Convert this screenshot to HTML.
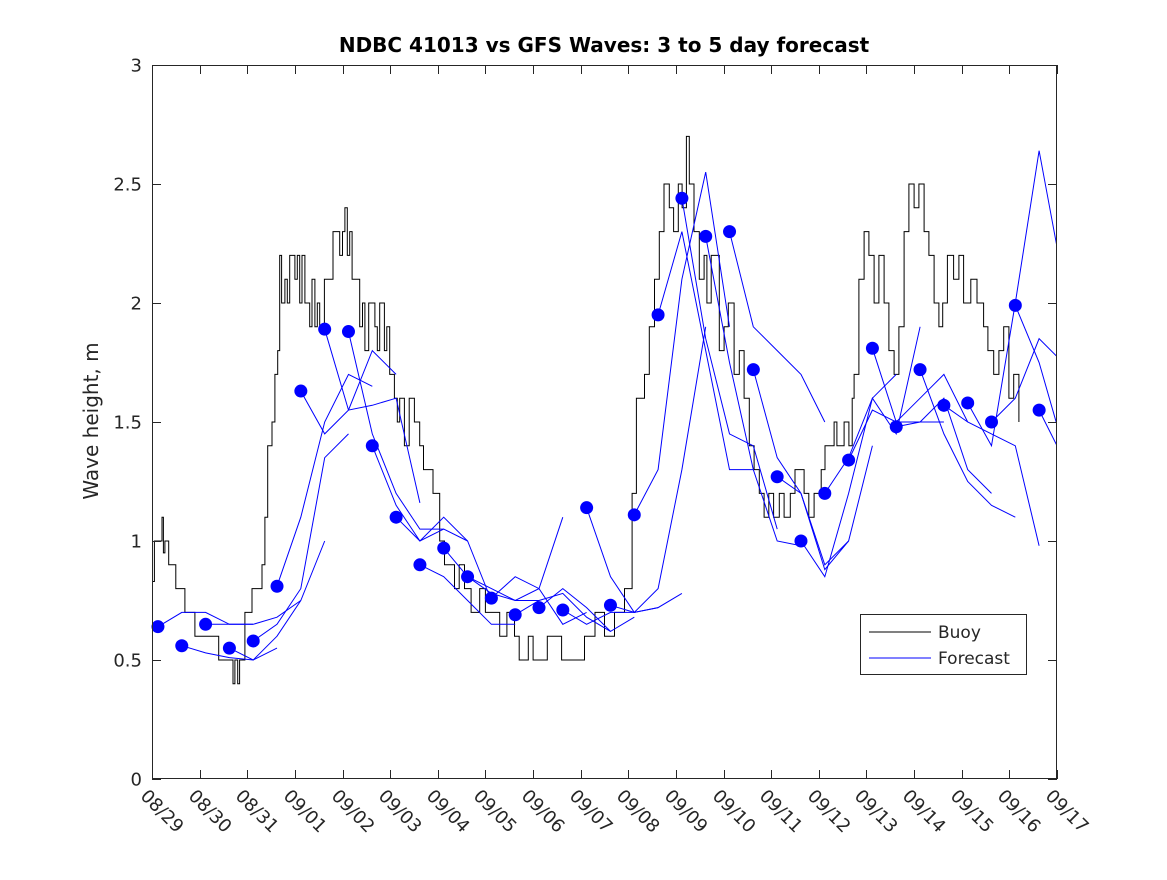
<!DOCTYPE html>
<html><head><meta charset="utf-8"><style>
body{margin:0;background:#fff}
svg text{font-family:"DejaVu Sans","Liberation Sans",sans-serif;fill:#262626}
</style></head><body>
<svg id="chart" width="1167" height="875" viewBox="0 0 1167 875" xmlns="http://www.w3.org/2000/svg">
<rect width="1167" height="875" fill="#fff"/>
<text x="604" y="52" text-anchor="middle" font-size="20" font-weight="bold" style="fill:#000">NDBC 41013 vs GFS Waves: 3 to 5 day forecast</text>
<text transform="translate(98,421) rotate(-90)" text-anchor="middle" font-size="20">Wave height, m</text>
<g id="plot"></g>
<g id="axes"></g>
<g>
<rect x="860.5" y="614.5" width="166" height="60" fill="#fff" stroke="#262626" stroke-width="1"/>
<line x1="869" y1="632" x2="931" y2="632" stroke="#000" stroke-width="1"/>
<text x="938" y="638" font-size="17">Buoy</text>
<line x1="869" y1="658" x2="931" y2="658" stroke="#0000ff" stroke-width="1"/>
<text x="938" y="664" font-size="17">Forecast</text>
</g>
</svg>
<script>
const xTickLabels=["08/29","08/30","08/31","09/01","09/02","09/03","09/04","09/05","09/06","09/07","09/08","09/09","09/10","09/11","09/12","09/13","09/14","09/15","09/16","09/17"];
const yTicks=[0,0.5,1,1.5,2,2.5,3];
const yTickLabels=["0","0.5","1","1.5","2","2.5","3"];
const buoyDays=[0,0.05,0.21,0.24,0.27,0.35,0.42,0.5,0.58,0.69,0.9,1.11,1.4,1.7,1.74,1.8,1.84,1.95,2.1,2.31,2.37,2.43,2.52,2.58,2.64,2.68,2.72,2.79,2.84,2.89,3.0,3.05,3.1,3.15,3.21,3.31,3.36,3.42,3.47,3.52,3.62,3.73,3.8,3.94,4.0,4.05,4.1,4.15,4.2,4.26,4.36,4.42,4.47,4.55,4.68,4.73,4.78,4.88,4.93,4.99,5.09,5.15,5.2,5.3,5.4,5.51,5.62,5.7,5.83,5.9,6.04,6.14,6.35,6.45,6.56,6.7,6.88,7.0,7.19,7.3,7.45,7.61,7.71,7.9,8.0,8.24,8.3,8.6,8.97,9.08,9.3,9.5,9.71,9.92,10.08,10.17,10.34,10.44,10.55,10.65,10.75,10.86,10.95,11.05,11.13,11.22,11.28,11.38,11.49,11.59,11.65,11.74,11.91,12.01,12.1,12.22,12.33,12.43,12.54,12.64,12.75,12.85,12.95,13.05,13.17,13.27,13.4,13.5,13.69,13.79,13.9,14.05,14.13,14.32,14.38,14.53,14.63,14.7,14.74,14.84,14.95,15.05,15.16,15.26,15.37,15.47,15.58,15.68,15.79,15.89,16.0,16.1,16.21,16.31,16.42,16.52,16.6,16.7,16.83,16.94,17.04,17.19,17.32,17.46,17.55,17.67,17.78,17.88,17.99,18.09,18.2];
const buoyVals=[0.83,1.0,1.1,0.95,1.0,0.9,0.9,0.8,0.8,0.7,0.6,0.6,0.5,0.4,0.5,0.4,0.5,0.7,0.8,0.9,1.1,1.4,1.5,1.7,1.8,2.2,2.0,2.1,2.0,2.2,2.1,2.2,2.0,2.2,2.0,1.9,2.1,1.9,2.0,1.9,2.1,2.1,2.3,2.2,2.3,2.4,2.2,2.3,2.1,2.1,1.9,2.0,1.8,2.0,1.9,1.8,2.0,1.8,1.9,1.7,1.6,1.5,1.6,1.4,1.6,1.5,1.4,1.3,1.3,1.2,1.0,0.9,0.8,0.9,0.8,0.7,0.8,0.7,0.7,0.6,0.7,0.6,0.5,0.6,0.5,0.5,0.6,0.5,0.5,0.6,0.7,0.6,0.7,0.8,1.2,1.6,1.7,1.9,2.1,2.3,2.5,2.4,2.3,2.5,2.4,2.7,2.5,2.3,2.1,2.2,2.0,2.2,1.8,1.9,2.0,1.7,1.8,1.6,1.4,1.3,1.2,1.1,1.2,1.1,1.2,1.1,1.2,1.3,1.2,1.1,1.2,1.3,1.4,1.5,1.4,1.5,1.4,1.6,1.7,2.1,2.3,2.2,2.0,2.2,2.0,1.8,1.7,1.9,2.3,2.5,2.4,2.5,2.3,2.2,2.0,1.9,2.0,2.2,2.1,2.2,2.0,2.1,2.0,1.9,1.8,1.7,1.8,1.9,1.6,1.7,1.5,1.7,1.6,1.6];
const dotDays=[0.125,0.625,1.125,1.625,2.125,2.625,3.125,3.625,4.125,4.625,5.125,5.625,6.125,6.625,7.125,7.625,8.125,8.625,9.125,9.625,10.125,10.625,11.125,11.625,12.125,12.625,13.125,13.625,14.125,14.625,15.125,15.625,16.125,16.625,17.125,17.625,18.125,18.625];
const dotVals=[0.64,0.56,0.65,0.55,0.58,0.81,1.63,1.89,1.88,1.40,1.10,0.90,0.97,0.85,0.76,0.69,0.72,0.71,1.14,0.73,1.11,1.95,2.44,2.28,2.30,1.72,1.27,1.00,1.20,1.34,1.81,1.48,1.72,1.57,1.58,1.50,1.99,1.55];
const fcTail=[
[0.70,0.70,0.65,0.65],[0.53,0.51,0.50,0.55],[0.65,0.65,0.68,0.75],[0.50,0.60,0.75,1.0],
[0.65,0.80,1.35,1.45],[1.1,1.5,1.7,1.65],[1.45,1.55,1.8,1.7],[1.55,1.57,1.6,1.16],
[1.45,1.2,1.05,1.05],[1.15,1.0,1.05,1.0],[1.0,1.1,1.0,0.75],[0.85,0.75,0.65,0.65],
[0.85,0.80,0.75,0.75],[0.78,0.75,0.80,1.1],[0.85,0.80,0.65,0.70],[0.75,0.78,0.68,0.62],
[0.80,0.72,0.62,0.68],[0.65,0.70,0.70,0.72],[0.85,0.70,0.72,0.78],[0.70,0.80,1.3,1.9],
[1.3,2.1,2.55,1.9],[2.3,1.8,1.3,1.3],[1.85,1.45,1.4,1.05],[1.75,1.3,1.0,0.98],
[1.9,1.8,1.7,1.5],[1.35,1.2,0.9,1.0],[1.2,0.88,1.0,1.4],[0.85,1.2,1.6,1.7],
[1.35,1.6,1.45,1.9],[1.55,1.5,1.5,1.5],[1.5,1.6,1.7,1.5],[1.5,1.6,1.3,1.2],
[1.45,1.25,1.15,1.10],[1.5,1.45,1.4,0.98],[1.4,2.0,2.64,2.1],[1.6,1.85,1.75,1.75],
[1.75,1.4,1.2,1.1],[1.35,1.2,1.1,1.0]];
const X0=152,X1=1057,Y0=779,Y1=65,DMAX=19,VMAX=3;
const xs=d=>X0+(X1-X0)*d/DMAX, ys=v=>Y0-(Y0-Y1)*v/VMAX;
const NS="http://www.w3.org/2000/svg";
const plot=document.getElementById('plot'), axes=document.getElementById('axes');
function mk(t,a,p){const e=document.createElementNS(NS,t);for(const k in a)e.setAttribute(k,a[k]);p.appendChild(e);return e;}
const defs=mk('defs',{},plot);
const cp=mk('clipPath',{id:'clip'},defs);mk('rect',{x:X0,y:Y1,width:X1-X0,height:Y0-Y1},cp);
let d='M'+xs(buoyDays[0])+','+ys(buoyVals[0]);
for(let i=1;i<buoyDays.length;i++){d+=' H'+xs(buoyDays[i]).toFixed(1)+' V'+ys(buoyVals[i]).toFixed(1);}
const bl=mk('path',{d:d,fill:'none',stroke:'#000','stroke-width':1},plot);


const fg=mk('g',{'clip-path':'url(#clip)'},plot);
for(let k=0;k<dotDays.length;k++){
 const vals=[dotVals[k]].concat(fcTail[k]);
 const pts=vals.map((v,j)=>xs(dotDays[k]+0.5*j).toFixed(1)+','+ys(v).toFixed(1)).join(' ');
 const pl=mk('polyline',{points:pts,fill:'none',stroke:'#0000ff','stroke-width':1},fg);
 
 
}
for(let k=0;k<dotDays.length;k++){
 const c=mk('circle',{cx:xs(dotDays[k]),cy:ys(dotVals[k]),r:6.5,fill:'#0000ff'},plot);
 
 
}
mk('rect',{x:X0+0.5,y:Y1+0.5,width:X1-X0-1,height:Y0-Y1-1,fill:'none',stroke:'#262626','stroke-width':1},axes);
yTicks.forEach((v,i)=>{
 const y=Math.round(ys(v))+0.5;
 mk('line',{x1:X0,y1:y,x2:X0+9,y2:y,stroke:'#262626'},axes);
 mk('line',{x1:X1-9,y1:y,x2:X1,y2:y,stroke:'#262626'},axes);
 const t=mk('text',{x:142,y:y+6,'text-anchor':'end','font-size':18},axes);t.textContent=yTickLabels[i];
 
 
});
xTickLabels.forEach((s,i)=>{
 const x=Math.round(xs(i))+0.5;
 mk('line',{x1:x,y1:Y0,x2:x,y2:Y0-9,stroke:'#262626'},axes);
 mk('line',{x1:x,y1:Y1,x2:x,y2:Y1+9,stroke:'#262626'},axes);
 const t=mk('text',{x:0,y:0,'font-size':18,transform:'translate('+(x-13)+',797) rotate(45)'},axes);t.textContent=s;
 
 
});
</script>
</body></html>
